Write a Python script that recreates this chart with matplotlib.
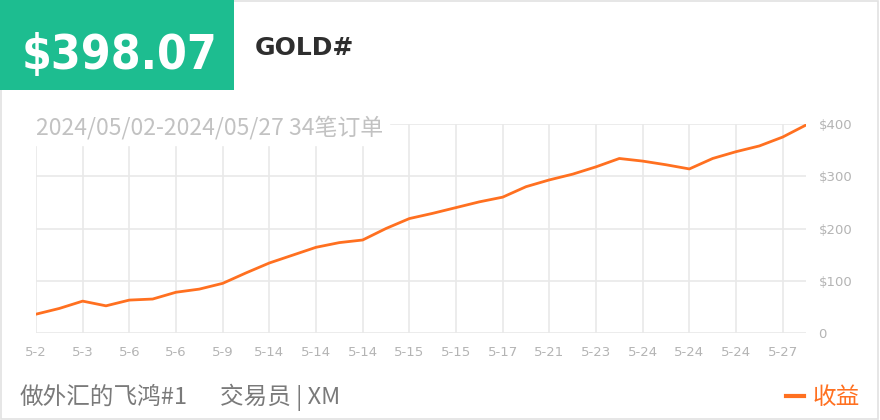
import matplotlib
matplotlib.use("Agg")
import matplotlib.pyplot as plt
from matplotlib.patches import Rectangle
import numpy as np

plt.rcParams["font.family"] = ["Noto Sans CJK SC", "DejaVu Sans"]

# cumulative profit after each of the 34 orders
profit = [36, 47, 61, 52, 63, 65, 78, 84, 95, 115, 134, 149, 164, 173, 178,
          200, 219, 229, 240, 251, 260, 280, 293, 304, 318, 334, 329, 322,
          314, 334, 347, 358, 375, 398.07]
tick_labels = ["5-2", "5-3", "5-6", "5-6", "5-9", "5-14", "5-14", "5-14", "5-15",
               "5-15", "5-17", "5-21", "5-23", "5-24", "5-24", "5-24", "5-27"]
y_ticks = [0, 100, 200, 300, 400]
y_labels = ["0", "$100", "$200", "$300", "$400"]

total = "$398.07"
symbol = "GOLD#"
subtitle = "2024/05/02-2024/05/27 34笔订单"
trader = "做外汇的飞鸿#1"
broker = "交易员 | XM"
legend_label = "收益"

green = "#1dbd90"
orange = "#ff7020"
grid_c = "#e9e9e9"
tick_c = "#b4b4b4"

fig = plt.figure(figsize=(8.8, 4.2), dpi=100)

# outer border + green badge
fig.patches.append(Rectangle((0.001, 0.003), 0.997, 0.995, transform=fig.transFigure,
                             fill=False, edgecolor="#e2e2e2", linewidth=1.2))
fig.patches.append(Rectangle((0, 1 - 90 / 420), 234 / 880, 90 / 420,
                             transform=fig.transFigure, facecolor=green,
                             edgecolor="none"))
fig.text(22 / 880, 1 - 55 / 420, total, color="white", fontsize=34.5,
         fontweight="bold", fontstretch="condensed", family=["DejaVu Sans"],
         va="center", ha="left")
fig.text(255 / 880, 1 - 48 / 420, symbol, color="#2e2e2e", fontsize=18,
         fontweight="bold", family=["DejaVu Sans"], va="center", ha="left")

ax = fig.add_axes([36 / 880, 87 / 420, 770 / 880, 209 / 420])
x = np.arange(len(profit))
ax.plot(x, profit, color=orange, linewidth=2.0, solid_joinstyle="round", zorder=3)

ax.set_xlim(0, len(profit) - 1)
ax.set_ylim(0, 400)
ax.set_xticks(x[::2])
ax.set_xticklabels(tick_labels, fontsize=9.5, color=tick_c, family=["DejaVu Sans"])
ax.set_yticks(y_ticks)
ax.set_yticklabels(y_labels, fontsize=9.5, color=tick_c, family=["DejaVu Sans"])
ax.yaxis.tick_right()
ax.tick_params(axis="both", length=0)
ax.tick_params(axis="x", pad=9)
ax.tick_params(axis="y", pad=9)
ax.grid(True, color=grid_c, linewidth=1.2)
ax.set_axisbelow(True)
for s in ax.spines.values():
    s.set_visible(False)

fig.text(36 / 880, 1 - 128 / 420, subtitle, color="#c2c2c2", fontsize=16.5,
         fontweight="light", va="center", ha="left", backgroundcolor="white")
fig.text(20 / 880, 1 - 397 / 420, trader, color="#7a7a7a", fontsize=17,
         va="center", ha="left")
fig.text(220 / 880, 1 - 397 / 420, broker, color="#7a7a7a", fontsize=17,
         va="center", ha="left")
fig.text(860 / 880, 1 - 397 / 420, legend_label, color=orange, fontsize=17,
         va="center", ha="right")
fig.lines.append(plt.Line2D([786 / 880, 804 / 880], [1 - 396 / 420, 1 - 396 / 420],
                            transform=fig.transFigure, color=orange, linewidth=3))

fig.savefig("out.png", dpi=100, facecolor="white")
